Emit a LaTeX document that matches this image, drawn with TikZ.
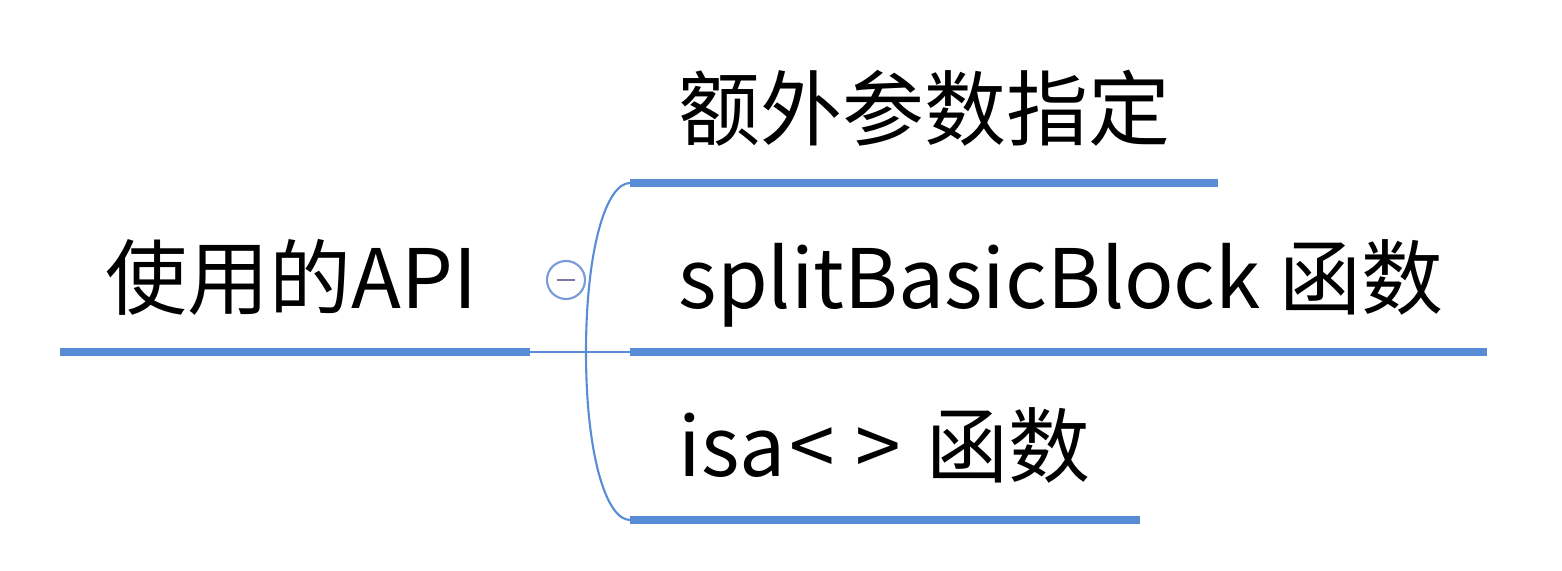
\documentclass[tikz,border=0pt]{standalone}
\usepackage{fontspec}
\newfontfamily\cjk{Noto Sans CJK SC}
\usetikzlibrary{positioning}
\definecolor{mapblue}{RGB}{88,140,212}
\definecolor{foldblue}{RGB}{120,155,215}
\definecolor{foldmark}{RGB}{125,120,165}
\tikzset{
  topictext/.style={anchor=base west, inner sep=0pt, font=\cjk\fontsize{23.3pt}{28pt}\selectfont},
  underln/.style={line width=2.3pt, mapblue},
  branchln/.style={line width=0.6pt, mapblue, line cap=round},
  foldbtn/.style={circle, draw=foldblue, fill=white, line width=0.6pt, minimum size=0.38cm, inner sep=0pt},
}

\begin{document}
\begin{tikzpicture}[x=0.01cm, y=-0.01cm]
    \useasboundingbox (0,0) rectangle (1562,571);
    % root topic
    \node[topictext] (root) at (105,309) {使用的API};
    \coordinate (rootL) at (60,352);
    \coordinate (rootR) at (530,352);
    \draw[underln] (rootL) -- (rootR);
    \coordinate (fork) at (586,352);
    % sub topics
    \foreach \nm/\y/\xr/\txt in {extra/183/1218/{额外参数指定},
        split/352/1487/{splitBasicBlock 函数}, isa/520/1140/{isa\kern1pt<\kern6pt>\kern2pt\ 函数}} {
      \node[topictext] (\nm) at (678,\y-43) {\txt};
      \coordinate (\nm L) at (630,\y);
      \coordinate (\nm R) at (\xr,\y);
      \draw[underln] (\nm L) -- (\nm R);
    }
    \draw[branchln] (rootR) -- (splitL);
    \draw[branchln] (fork) .. controls (586,250) and (606,183) .. (extraL);
    \draw[branchln] (fork) .. controls (586,454) and (606,520) .. (isaL);
    % fold button
    \node[foldbtn] (fold) at (566,280) {};
    \draw[foldmark, line width=0.6pt] ([xshift=-0.09cm]fold.center) -- ([xshift=0.09cm]fold.center);
  \end{tikzpicture}
\end{document}
